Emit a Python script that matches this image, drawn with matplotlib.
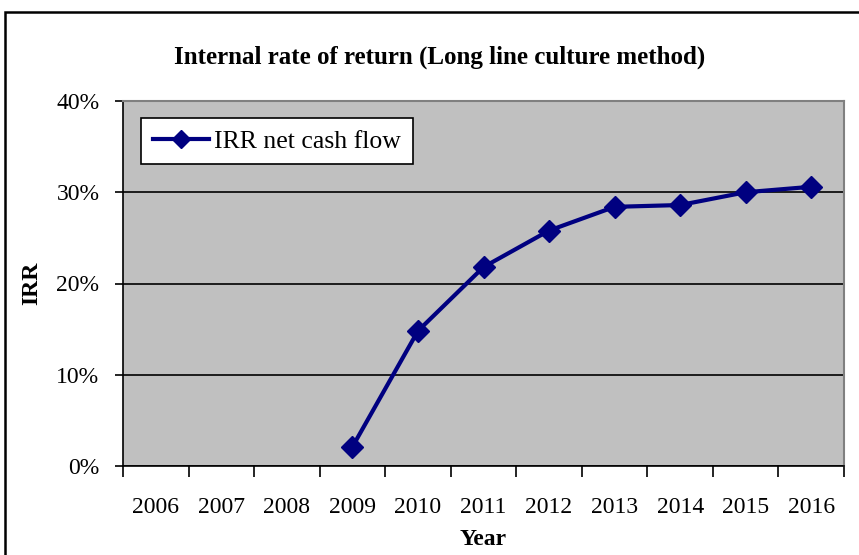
import matplotlib.pyplot as plt
from matplotlib.patches import Rectangle
from matplotlib.ticker import FixedLocator, FuncFormatter

years = ['2006', '2007', '2008', '2009', '2010', '2011', '2012', '2013', '2014', '2015', '2016']
irr_years = ['2009', '2010', '2011', '2012', '2013', '2014', '2015', '2016']
irr = [0.021, 0.148, 0.218, 0.258, 0.284, 0.286, 0.300, 0.306]

plt.rcParams['font.family'] = ['Liberation Serif', 'DejaVu Serif']

fig = plt.figure(figsize=(8.59, 5.55), dpi=100)
ax = fig.add_axes([123 / 859, 1 - 466 / 555, (844 - 123) / 859, (466 - 101) / 555])

# outer chart border (right and bottom edges fall outside the picture)
fig.patches.append(Rectangle((5 / 859, -10 / 555), 870 / 859, 553 / 555, transform=fig.transFigure,
                             fill=False, edgecolor='black', linewidth=1.8))

ax.set_facecolor('#c0c0c0')
xpos = [years.index(y) for y in irr_years]
ax.plot(xpos, irr, color='#000080', linewidth=3, marker='D', markersize=11,
        label='IRR net cash flow', zorder=3)

ax.set_xlim(-0.5, len(years) - 0.5)
ax.set_ylim(0, 0.4)
ax.set_yticks([0, 0.1, 0.2, 0.3, 0.4])
ax.yaxis.set_major_formatter(FuncFormatter(lambda v, p: '{:.0f}%'.format(v * 100)))
ax.grid(axis='y', color='black', linewidth=1.2)
ax.set_axisbelow(True)

ax.set_xticks(range(len(years)))
ax.set_xticklabels(years)
ax.xaxis.set_minor_locator(FixedLocator([i - 0.5 for i in range(len(years) + 1)]))
ax.tick_params(axis='x', which='major', length=0, pad=22, labelsize=17)
ax.tick_params(axis='x', which='minor', length=8, width=1.2, color='black')
ax.tick_params(axis='y', length=6, width=1.2, labelsize=17, pad=11)

for s in ['left', 'bottom']:
    ax.spines[s].set_color('black')
    ax.spines[s].set_linewidth(1.2)
for s in ['top', 'right']:
    ax.spines[s].set_color('#808080')
    ax.spines[s].set_linewidth(1.5)

ax.set_xlabel('Year', fontsize=17, fontweight='bold', labelpad=8)
ax.set_ylabel('IRR', fontsize=17, fontweight='bold', labelpad=10)
fig.text(440 / 859, 1 - 57 / 555, 'Internal rate of return (Long line culture method)',
         ha='center', va='center', fontsize=18, fontweight='bold')

leg = ax.legend(loc='upper left', bbox_to_anchor=(18 / 721, 1 - 17 / 365), fontsize=18.5,
                frameon=True, fancybox=False, edgecolor='black', framealpha=1,
                borderaxespad=0, borderpad=0.45, handlelength=2.2, handletextpad=0.2)
leg.get_frame().set_linewidth(1.2)
leg.legend_handles[0].set_markersize(9)

fig.savefig('out.png', dpi=100)
